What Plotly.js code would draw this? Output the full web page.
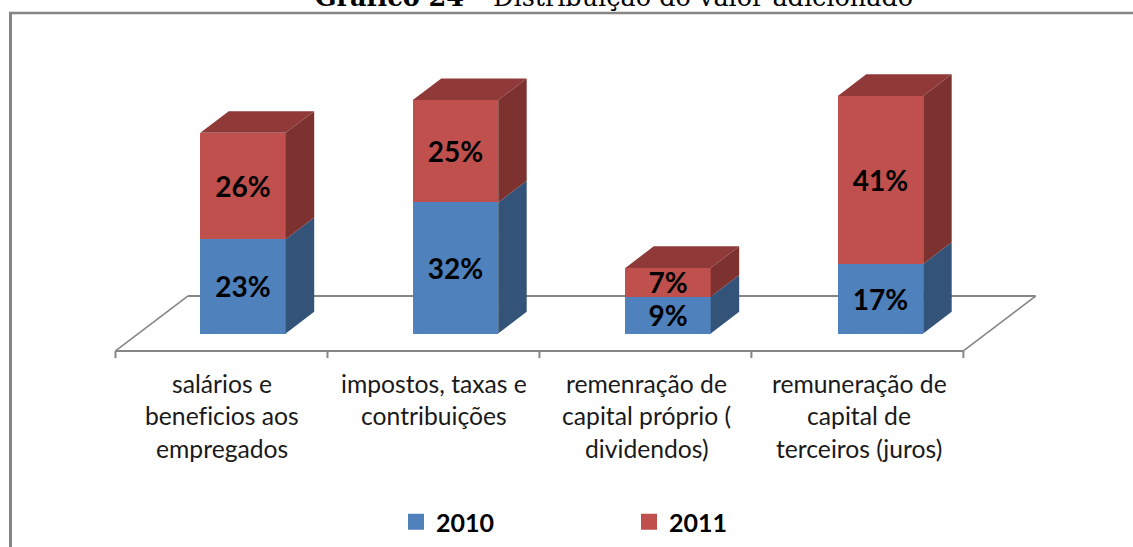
<!DOCTYPE html>
<html>
<head>
<meta charset="utf-8">
<script src="https://cdn.plot.ly/plotly-3.0.1.min.js"></script>
<style>html,body{margin:0;padding:0;background:#fff;overflow:hidden}#chart{width:1133px;height:547px}
svg text{font-variant-ligatures:none;font-feature-settings:"liga" 0}</style>
</head>
<body>
<div id="chart"></div>
<script>
// --- data ---
const categoryLines = [
  ["salários e", "beneficios aos", "empregados"],
  ["impostos, taxas e", "contribuições"],
  ["remenração de", "capital próprio (", "dividendos)"],
  ["remuneração de", "capital de", "terceiros (juros)"]
];
const values2010 = [23, 32, 9, 17];
const values2011 = [26, 25, 7, 41];
const seriesNames = ["2010", "2011"];
const titleBold = "Gráfico 24";
const titleRest = " – Distribuição do valor adicionado";

// --- style ---
const W = 1133, H = 547;
const pxPerCat = 212.5, pxPerPct = 4.095, x0Px = 243, y0Px = 333.5;
const barW = 0.402, depthX = 0.134, depthY = 5.3;
const floorL = -0.6, floorR = 3.39, floorDX = 0.34, floorFront = -4.25, floorBack = 9.15, tickLen = 1.75;
const blue = "#4F81BD", red = "#C0504D", blueSide = "#335379", redSide = "#7D3230", redTop = "#8F3A38";
const gray = "#868686";
const sans = "Lato, 'Open Sans', sans-serif";
const idx = values2010.map((_, i) => i);

function sideFace(base, tops) {
  const x = [], y = [];
  idx.forEach(i => {
    const r = i + barW / 2;
    x.push(r, r + depthX, r + depthX, r, r, null);
    y.push(base[i], base[i] + depthY, tops[i] + depthY, tops[i], base[i], null);
  });
  return {x, y};
}
function topFace(tops) {
  const x = [], y = [];
  idx.forEach(i => {
    const l = i - barW / 2, r = i + barW / 2;
    x.push(l, r, r + depthX, l + depthX, l, null);
    y.push(tops[i], tops[i], tops[i] + depthY, tops[i] + depthY, tops[i], null);
  });
  return {x, y};
}
const stackTop = idx.map(i => values2010[i] + values2011[i]);
const zeros = idx.map(() => 0);
function face(geo, color) {
  return {type:"scatter", mode:"lines", x:geo.x, y:geo.y, fill:"toself", fillcolor:color,
          line:{width:0, color:color}, hoverinfo:"skip", showlegend:false};
}
function bar(vals, color, name) {
  return {type:"bar", x:idx, y:vals, name:name, width:barW, marker:{color:color, line:{width:0}},
          text:vals.map(v => v + "%"), textposition:"inside", insidetextanchor:"middle",
          textangle:0, constraintext:"none",
          textfont:{family:sans, size:28, color:"#000", weight:700}, showlegend:false, hoverinfo:"name+y"};
}
function legendKey(color, name) {
  return {type:"scatter", mode:"markers", x:[null], y:[null], name:name,
          marker:{symbol:"square", size:16, color:color}, hoverinfo:"skip"};
}
const traces = [
  bar(values2010, blue, seriesNames[0]),
  bar(values2011, red, seriesNames[1]),
  face(sideFace(zeros, values2010), blueSide),
  face(sideFace(values2010, stackTop), redSide),
  face(topFace(stackTop), redTop),
  legendKey(blue, seriesNames[0]),
  legendKey(red, seriesNames[1])
];

// floor and tick marks
const shapes = [];
function seg(x0, y0, x1, y1, w) {
  shapes.push({type:"line", xref:"x", yref:"y", layer:"below", x0, y0, x1, y1, line:{color:gray, width:w}});
}
seg(floorL, floorFront, floorR, floorFront, 2);
seg(floorL + floorDX, floorBack, floorR + floorDX, floorBack, 2);
seg(floorL, floorFront, floorL + floorDX, floorBack, 1.6);
seg(floorR, floorFront, floorR + floorDX, floorBack, 1.6);
for (let k = 0; k <= categoryLines.length; k++) {
  const tx = floorL + k * (floorR - floorL) / categoryLines.length;
  seg(tx, floorFront, tx, floorFront - tickLen, 2);
}
// page frame: left and top rules only
shapes.push({type:"line", xref:"paper", yref:"paper", layer:"below", x0:10.5/W, x1:10.5/W, y0:0, y1:1-13/H, line:{color:gray, width:3}});
shapes.push({type:"line", xref:"paper", yref:"paper", layer:"below", x0:9/W, x1:1, y0:1-13/H, y1:1-13/H, line:{color:gray, width:2.5}});

// category labels, one annotation a line for the wide line spacing
const lineY = [383, 415, 448];
const annotations = [];
categoryLines.forEach((lines, i) => lines.forEach((t, n) => {
  annotations.push({xref:"x", yref:"paper", x:i - 0.1, y:1 - lineY[n]/H, text:t, showarrow:false,
    xanchor:"center", yanchor:"middle", font:{family:sans, size:24.7, color:"#1a1a1a"}});
}));

const layout = {
  width:W, height:H, margin:{l:0,r:0,t:0,b:0,pad:0}, paper_bgcolor:"#fff", plot_bgcolor:"rgba(0,0,0,0)",
  barmode:"stack", showlegend:true,
  title:{text:"<b>"+titleBold+"</b>"+titleRest, x:614/W, xanchor:"center", y:1-6/H, yanchor:"bottom", automargin:false,
         font:{family:"'DejaVu Serif', serif", size:25.5, color:"#000"}},
  xaxis:{visible:false, range:[-x0Px/pxPerCat, (W-x0Px)/pxPerCat], fixedrange:true},
  yaxis:{visible:false, range:[-(H-y0Px)/pxPerPct, y0Px/pxPerPct], fixedrange:true},
  legend:{orientation:"h", x:396/W, xanchor:"left", y:1-522/H, yanchor:"middle", bgcolor:"rgba(0,0,0,0)",
          font:{family:sans, size:25, color:"#000", weight:700}, itemsizing:"trace",
          entrywidth:188, entrywidthmode:"pixels", traceorder:"normal"},
  shapes, annotations
};
Plotly.newPlot("chart", traces, layout, {displayModeBar:false, staticPlot:true});
</script>
</body>
</html>
